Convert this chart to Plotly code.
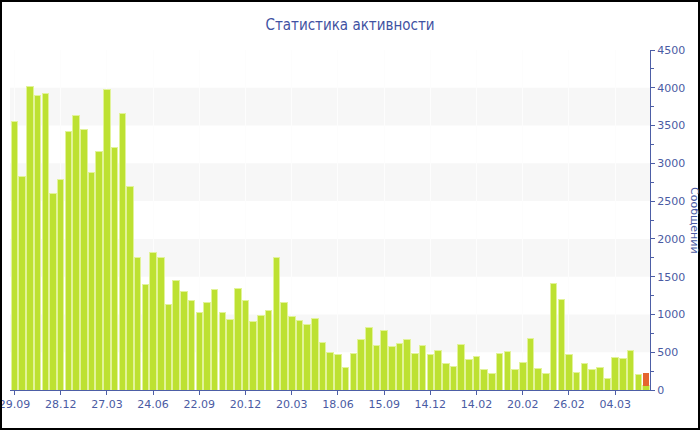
import plotly.graph_objects as go

# --- data -------------------------------------------------------------
main_values = [
    3550, 2820, 4020, 3900, 3930, 2600, 2790, 3420, 3630, 3450,
    2880, 3160, 3980, 3210, 3660, 2690, 1756, 1390, 1814, 1751,
    1130, 1447, 1306, 1187, 1023, 1156, 1328, 1023, 931, 1350,
    1187, 904, 988, 1054, 1760, 1160, 979, 922, 869, 949,
    631, 499, 476, 292, 485, 666, 821, 587, 790, 582,
    622, 675, 485, 587, 472, 525, 348, 309, 600, 406,
    450, 274, 225, 485, 507, 265, 366, 684, 291, 221,
    1416, 1200, 476, 234, 353, 278, 300, 155, 432, 415,
    529, 210, 57,
]
extra_values = [0] * 82 + [164]
positions = list(range(len(main_values)))
tick_positions = [0, 6, 12, 18, 24, 30, 36, 42, 48, 54, 60, 66, 72, 78]
tick_labels = ["29.09", "28.12", "27.03", "24.06", "22.09", "20.12", "20.03",
               "18.06", "15.09", "14.12", "14.02", "20.02", "26.02", "04.03"]
band_starts = [500, 1500, 2500, 3500]

title_text = "Статистика активности"
y_title = "Сообщений"

# --- style --------------------------------------------------------------
AXIS = "#4d5ea6"
TEXT = "#4a5ba3"
GREEN = "#bde132"
GREEN_EDGE = "#e2f39a"
ORANGE = "#e5652e"
FONT = "DejaVu Sans"

fig = go.Figure()
fig.add_trace(go.Bar(
    x=positions, y=main_values,
    marker=dict(color=GREEN, line=dict(color=GREEN_EDGE, width=1)),
    hoverinfo="y", showlegend=False,
))
fig.add_trace(go.Bar(
    x=positions, y=extra_values,
    marker=dict(color=ORANGE, line=dict(width=0)),
    hoverinfo="y", showlegend=False,
))

shapes = []
for b in band_starts:
    shapes.append(dict(type="rect", xref="paper", yref="y", x0=0, x1=1,
                       y0=b, y1=b + 500, fillcolor="#f7f7f7",
                       line=dict(width=0), layer="below"))

W, H = 700, 430
ml, mr, mt, mb = 10, 50, 50, 40
pw, ph = W - ml - mr, H - mt - mb
# outer black frame
shapes.append(dict(type="rect", xref="paper", yref="paper",
                   x0=(-ml + 1) / pw, x1=1 + (mr - 1) / pw,
                   y0=(-mb + 1) / ph, y1=1 + (mt - 1) / ph,
                   line=dict(color="black", width=2), layer="above"))

fig.update_layout(
    width=W, height=H,
    margin=dict(l=ml, r=mr, t=mt, b=mb, autoexpand=False),
    paper_bgcolor="white", plot_bgcolor="white",
    barmode="stack", bargap=0.15,
    font=dict(family=FONT, size=11, color=TEXT),
    title=dict(text=title_text, x=0.5, xanchor="center",
               y=1 - 25 / H, yanchor="middle",
               font=dict(family="DejaVu Sans Condensed", size=15, color="#3f52a2")),
    shapes=shapes,
    annotations=[dict(text=y_title, xref="paper", yref="paper",
                      x=1 + (695 - ml - pw) / pw, y=0.5,
                      xanchor="center", yanchor="middle", textangle=90,
                      showarrow=False,
                      font=dict(family=FONT, size=11, color=TEXT))],
    xaxis=dict(range=[-0.58, 82.52], tickmode="array",
               tickvals=tick_positions, ticktext=tick_labels,
               showline=True, linecolor=AXIS, linewidth=1,
               ticks="outside", ticklen=4, tickcolor=AXIS,
               showgrid=True, gridcolor="#fdfdfd", zeroline=False,
               automargin=False, ticklabeloverflow="allow",
               tickfont=dict(family=FONT, size=11, color=TEXT)),
    yaxis=dict(range=[0, 4500], side="right", dtick=500,
               showline=True, linecolor=AXIS, linewidth=1,
               ticks="outside", ticklen=4, tickcolor=AXIS,
               minor=dict(dtick=250, ticks="outside", ticklen=3, tickcolor=AXIS),
               showgrid=False, zeroline=False, automargin=False,
               ticklabeloverflow="allow",
               tickfont=dict(family=FONT, size=11, color=TEXT)),
)

fig.write_html("out.html",
               config={"displayModeBar": False},
               post_script="document.body.style.margin='0';document.body.style.padding='0';")
